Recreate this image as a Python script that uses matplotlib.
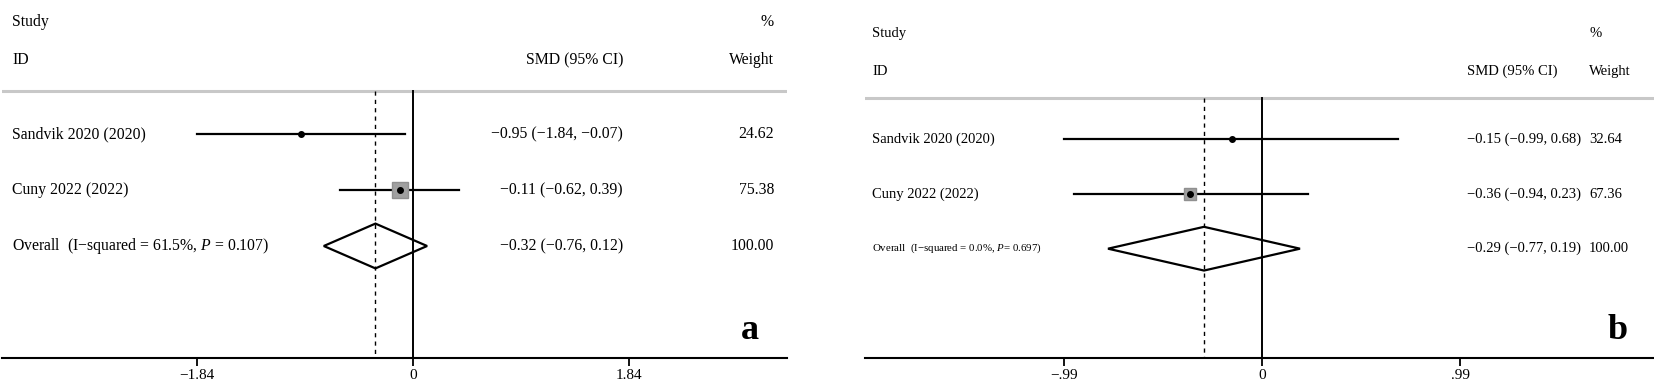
import matplotlib.pyplot as plt
from matplotlib.patches import Polygon

plt.rcParams['font.family'] = 'Liberation Serif'
plt.rcParams['mathtext.fontset'] = 'custom'
plt.rcParams['mathtext.it'] = 'Liberation Serif:italic'
plt.rcParams['mathtext.rm'] = 'Liberation Serif'

# panel a data
studies_a = ["Sandvik 2020 (2020)", "Cuny 2022 (2022)"]
smd_a = [-0.95, -0.11]
lo_a = [-1.84, -0.62]
hi_a = [-0.07, 0.39]
weight_a = [24.62, 75.38]
overall_a = [-0.32, -0.76, 0.12]
overall_label_a = "Overall  (I\u2212squared = 61.5%, $P$ = 0.107)"
ticks_a = [-1.84, 0, 1.84]
ticklabels_a = ["\u22121.84", "0", "1.84"]

# panel b data
studies_b = ["Sandvik 2020 (2020)", "Cuny 2022 (2022)"]
smd_b = [-0.15, -0.36]
lo_b = [-0.99, -0.94]
hi_b = [0.68, 0.23]
weight_b = [32.64, 67.36]
overall_b = [-0.29, -0.77, 0.19]
overall_label_b = "Overall  (I\u2212squared = 0.0%, $P$= 0.697)"
ticks_b = [-0.99, 0, 0.99]
ticklabels_b = ["\u2212.99", "0", ".99"]

W, H = 1654, 390
fig = plt.figure(figsize=(W / 100, H / 100), dpi=100)


def fmt(v):
    return ("%.2f" % v).replace("-", "\u2212")


def draw_panel(x0, x1, zero, unit, top_k, studies, smd, lo, hi, weight,
               overall, overall_label, ticks, ticklabels, letter,
               lab_px, smd_px, w_px, letter_px, right_align, fs, ov_fs,
               sq_sizes, header_k):
    bottom_px = 358
    ax = fig.add_axes([x0 / W, (H - bottom_px) / H, (x1 - x0) / W, bottom_px / H])
    ax.set_xlim((x0 - zero) / unit, (x1 - zero) / unit)
    ax.set_ylim(4.0, top_k)
    d = lambda px: (px - zero) / unit
    for s in ["top", "left", "right"]:
        ax.spines[s].set_visible(False)
    ax.spines["bottom"].set_linewidth(1.5)
    ax.set_yticks([])
    ax.set_xticks(ticks)
    ax.set_xticklabels(ticklabels, fontsize=11)
    ax.tick_params(axis="x", length=6, width=1.3, pad=2)

    line_k = header_k[2]
    ax.axhline(line_k, color="#c8c8c8", lw=2.2)
    ax.plot([0, 0], [line_k, 4.0], color="black", lw=1.4)
    ax.plot([overall[0], overall[0]], [line_k, 4.0], color="black", lw=1.0,
            ls=(0, (3, 3)))

    # headers
    ha = "right" if right_align else "left"
    ax.text(d(lab_px), header_k[0], "Study", fontsize=fs, va="center")
    ax.text(d(lab_px), header_k[1], "ID", fontsize=fs, va="center")
    ax.text(d(smd_px), header_k[1], "SMD (95% CI)", fontsize=fs, va="center", ha=ha)
    ax.text(d(w_px), header_k[0], "%", fontsize=fs, va="center", ha=ha)
    ax.text(d(w_px), header_k[1], "Weight", fontsize=fs, va="center", ha=ha)

    for i in range(len(studies)):
        ax.plot([lo[i], hi[i]], [i, i], color="black", lw=1.6)
        if sq_sizes[i] > 0:
            ax.plot(smd[i], i, marker="s", ms=sq_sizes[i], color="#a0a0a0",
                    mec="#909090")
        ax.plot(smd[i], i, marker="o", ms=4, color="black")
        ax.text(d(lab_px), i, studies[i], fontsize=fs, va="center")
        ax.text(d(smd_px), i, "%s (%s, %s)" % (fmt(smd[i]), fmt(lo[i]), fmt(hi[i])),
                fontsize=fs, va="center", ha=ha)
        ax.text(d(w_px), i, "%.2f" % weight[i], fontsize=fs, va="center", ha=ha)

    k = len(studies)
    est, olo, ohi = overall
    ax.add_patch(Polygon([(olo, k), (est, k - 0.4), (ohi, k), (est, k + 0.4)],
                         closed=True, fill=False, ec="black", lw=1.6))
    ax.text(d(lab_px), k, overall_label, fontsize=ov_fs, va="center")
    ax.text(d(smd_px), k, "%s (%s, %s)" % (fmt(est), fmt(olo), fmt(ohi)),
            fontsize=fs, va="center", ha=ha)
    ax.text(d(w_px), k, "100.00", fontsize=fs, va="center", ha=ha)

    ax.text(d(letter_px), 3.5, letter, fontsize=26, fontweight="bold",
            ha="center", va="center")
    return ax


draw_panel(2, 787, 413, 117.4, -2.393, studies_a, smd_a, lo_a, hi_a, weight_a,
           overall_a, overall_label_a, ticks_a, ticklabels_a, "a",
           12, 623, 774, 750, True, 11.3, 11.3, [0, 11], [-2.0, -1.32, -0.77])

draw_panel(865, 1654, 1262, 200.0, -2.55, studies_b, smd_b, lo_b, hi_b, weight_b,
           overall_b, overall_label_b, ticks_b, ticklabels_b, "b",
           872, 1467, 1589, 1618, False, 10.5, 7.8, [0, 8], [-1.93, -1.25, -0.75])

fig.savefig("out.png", dpi=100)
